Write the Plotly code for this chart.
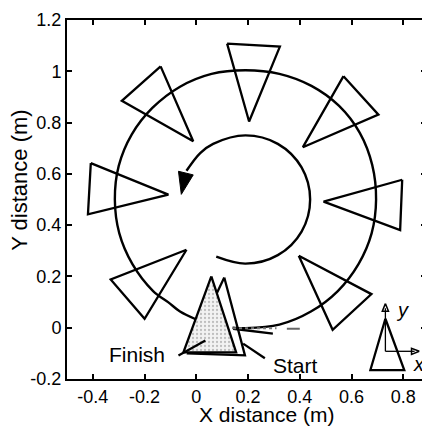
import plotly.graph_objects as go

# ---------------- data ----------------
# outer trajectory (counter-clockwise, from start to finish)
traj_x = [0.14, 0.19, 0.321, 0.443, 0.547, 0.627, 0.678, 0.695, 0.680, 0.632, 0.552,
          0.445, 0.321, 0.19, 0.059, -0.063, -0.170, -0.250, -0.300, -0.315, -0.298,
          -0.247, -0.167, -0.108, -0.063, 0.0]
traj_y = [0.0, -0.002, 0.012, 0.063, 0.143, 0.248, 0.369, 0.5, 0.635, 0.760, 0.865,
          0.943, 0.990, 1.004, 0.990, 0.940, 0.857, 0.753, 0.631, 0.5, 0.369,
          0.248, 0.143, 0.099, 0.063, 0.032]

# inner direction arc
arc_x = [0.077, 0.19, 0.315, 0.407, 0.44, 0.407, 0.315, 0.19, 0.065, 0.015, -0.038]
arc_y = [0.277, 0.25, 0.283, 0.375, 0.5, 0.625, 0.717, 0.75, 0.717, 0.681, 0.612]
arrow_x = [-0.069, -0.012, -0.058]
arrow_y = [0.61, 0.596, 0.52]

# robot pose triangles along the path
tri_x = [
    [-0.138, -0.288, -0.012],
    [-0.408, -0.419, -0.108],
    [-0.038, -0.331, -0.200],
    [0.119, 0.323, 0.204],
    [0.569, 0.704, 0.412],
    [0.796, 0.492, 0.788],
    [0.396, 0.677, 0.527],
]
tri_y = [
    [1.019, 0.885, 0.727],
    [0.642, 0.442, 0.519],
    [0.304, 0.188, 0.035],
    [1.108, 1.096, 0.804],
    [0.981, 0.831, 0.704],
    [0.577, 0.492, 0.381],
    [0.281, 0.131, -0.008],
]
start_x = [0.108, -0.031, 0.188]
start_y = [0.196, -0.100, -0.108]
finish_x = [0.058, -0.050, 0.154]
finish_y = [0.200, -0.096, -0.096]

# start heading / dashed lines
head_x = [0.142, 0.296]
head_y = [-0.004, -0.023]
dot_x = [0.142, 0.31]
dot_y = [-0.002, -0.002]
dash_x = [0.35, 0.40]
dash_y = [-0.004, -0.004]

# labels & leaders
finish_lead_x = [-0.069, 0.035]
finish_lead_y = [-0.108, -0.050]
start_lead_x = [0.181, 0.265]
start_lead_y = [-0.062, -0.119]
finish_label = ("Finish", -0.231, -0.104)
start_label = ("Start", 0.385, -0.146)

# body frame legend
key_tri_x = [0.731, 0.673, 0.804]
key_tri_y = [0.035, -0.165, -0.165]
key_origin = (0.731, -0.092)
key_ytip = (0.731, 0.094)
key_xtip = (0.862, -0.092)

x_ticks = [-0.4, -0.2, 0, 0.2, 0.4, 0.6, 0.8]
x_labels = ["-0.4", "-0.2", "0", "0.2", "0.4", "0.6", "0.8"]
y_ticks = [-0.2, 0, 0.2, 0.4, 0.6, 0.8, 1.0, 1.2]
y_labels = ["-0.2", "0", "0.2", "0.4", "0.6", "0.8", "1", "1.2"]

# ---------------- figure ----------------
fig = go.Figure()
LW = 2.3
BLK = "black"


def line(xs, ys, width=LW, dash=None, color=BLK, shape="linear"):
    fig.add_trace(go.Scatter(x=xs, y=ys, mode="lines",
                             line=dict(color=color, width=width, dash=dash, shape=shape),
                             hoverinfo="skip", showlegend=False))


def closed(xs, ys, width=LW, fill=None, pattern=None):
    kw = {}
    if fill:
        kw = dict(fill="toself", fillcolor=fill)
        if pattern:
            kw["fillpattern"] = pattern
    fig.add_trace(go.Scatter(x=list(xs) + [xs[0]], y=list(ys) + [ys[0]], mode="lines",
                             line=dict(color=BLK, width=width),
                             hoverinfo="skip", showlegend=False, **kw))


line(traj_x, traj_y, width=2.4, shape="spline")
line(arc_x, arc_y, width=2.4, shape="spline")
closed(arrow_x, arrow_y, width=1, fill="black")

for xs, ys in zip(tri_x, tri_y):
    closed(xs, ys)

closed(start_x, start_y)
closed(finish_x, finish_y, fill="#e4e4e4",
       pattern=dict(shape=".", fgcolor="#8a8a8a", bgcolor="#f2f2f2", size=4, solidity=0.25))

line(head_x, head_y)
line(dot_x, dot_y, width=2, dash="dot", color="#777")
line(dash_x, dash_y, width=2, color="#666")
line(finish_lead_x, finish_lead_y)
line(start_lead_x, start_lead_y)

# key triangle + frame arrows
closed(key_tri_x, key_tri_y)
line([key_origin[0], key_ytip[0]], [key_origin[1], key_ytip[1] - 0.018], width=1.3)
line([key_origin[0], key_xtip[0] - 0.018], [key_origin[1], key_xtip[1]], width=1.3)
hx = key_ytip[0]; hy = key_ytip[1]
closed([hx, hx - 0.012, hx + 0.012], [hy, hy - 0.03, hy - 0.03], width=1.5)
hx = key_xtip[0]; hy = key_xtip[1]
closed([hx, hx - 0.03, hx - 0.03], [hy, hy + 0.012, hy - 0.012], width=1.5)

FONT = "Liberation Sans, Arial, sans-serif"
for txt, x, y in [finish_label, start_label]:
    fig.add_annotation(x=x, y=y, text=txt, showarrow=False,
                       font=dict(family=FONT, size=21, color=BLK))
fig.add_annotation(x=key_ytip[0] + 0.065, y=key_ytip[1] - 0.025, text="<i>y</i>", showarrow=False,
                   font=dict(family=FONT, size=20, color=BLK))
fig.add_annotation(x=key_xtip[0] - 0.003, y=key_xtip[1] - 0.05, text="<i>x</i>", showarrow=False,
                   font=dict(family=FONT, size=20, color=BLK))

# axis titles (placed as in the reference)
fig.add_annotation(x=0.27, xref="x", y=0, yref="paper", yanchor="top", yshift=-22,
                   text="X distance (m)", showarrow=False,
                   font=dict(family=FONT, size=21, color=BLK))
fig.add_annotation(x=0, xref="paper", xanchor="center", xshift=-47,
                   y=0.573, yref="y", text="Y distance (m)", textangle=-90, showarrow=False,
                   font=dict(family=FONT, size=22, color=BLK))

axis_common = dict(showline=True, linecolor=BLK, linewidth=2, mirror="ticks",
                   ticks="inside", ticklen=5, tickwidth=1.5, tickcolor=BLK,
                   showgrid=False, zeroline=False, ticklabeloverflow="allow",
                   tickfont=dict(family=FONT, size=18, color=BLK))
fig.update_xaxes(range=[-0.5, 0.888], tickvals=x_ticks, ticktext=x_labels, **axis_common)
fig.update_yaxes(range=[-0.2, 1.2], tickvals=y_ticks, ticktext=y_labels, **axis_common)

# page body has an 8px default margin, so the figure is 8px smaller
fig.update_layout(width=422, height=423, margin=dict(l=59, r=2, t=7, b=52),
                  paper_bgcolor="white", plot_bgcolor="white")

fig.write_html("out.html")
